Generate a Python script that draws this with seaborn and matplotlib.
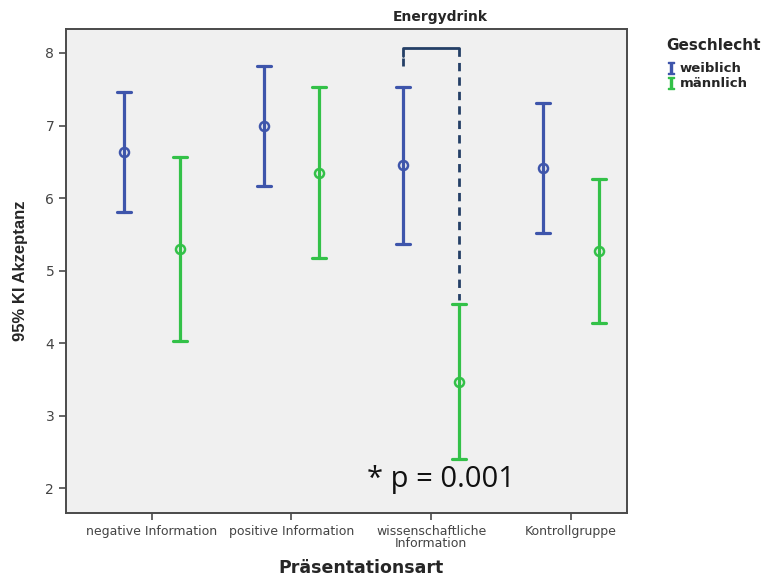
import pandas as pd
import matplotlib.pyplot as plt
import seaborn as sns
from matplotlib.lines import Line2D

gruppen = ["negative Information", "positive Information",
           "wissenschaftliche\nInformation", "Kontrollgruppe"]
geschlecht = ["weiblich", "männlich"]

# Mittelwert und 95%-KI (untere / obere Grenze)
w_mean = [6.64, 7.00, 6.46, 6.42]
w_low = [5.81, 6.17, 5.37, 5.52]
w_up = [7.46, 7.82, 7.53, 7.31]
m_mean = [5.30, 6.35, 3.47, 5.27]
m_low = [4.03, 5.18, 2.41, 4.28]
m_up = [6.57, 7.53, 4.54, 6.26]

farben = ["#3e55ab", "#33c148"]

rows = []
for i, g in enumerate(gruppen):
    for v in (w_low[i], w_mean[i], w_up[i]):
        rows.append({"Präsentationsart": g, "Geschlecht": "weiblich", "Akzeptanz": v})
    for v in (m_low[i], m_mean[i], m_up[i]):
        rows.append({"Präsentationsart": g, "Geschlecht": "männlich", "Akzeptanz": v})
df = pd.DataFrame(rows)

sns.set_style("white")
plt.rcParams["font.family"] = ["DejaVu Sans"]
plt.rcParams["mathtext.fontset"] = "dejavuserif"

fig = plt.figure(figsize=(7.68, 5.80), dpi=100)
ax = fig.add_axes([0.086, 0.1155, 0.730, 0.8345])
ax.set_facecolor("#f0f0f0")

# median of [low, mean, up] = mean, 100% interval = CI limits
sns.pointplot(data=df, x="Präsentationsart", y="Akzeptanz", hue="Geschlecht",
              hue_order=geschlecht, palette=farben, estimator="median",
              errorbar=("pi", 100), dodge=0.4, linestyle="none", capsize=0.1,
              markers="o", markersize=6.5, markerfacecolor="none", markeredgewidth=1.8,
              err_kws={"linewidth": 2.3}, legend=False, ax=ax)

ax.set_xlim(-0.614, 3.4)
ax.set_ylim(1.66, 8.33)
ax.set_yticks([2, 3, 4, 5, 6, 7, 8])

for s in ax.spines.values():
    s.set_color("#4a4a4a")
    s.set_linewidth(1.4)
ax.tick_params(axis="both", which="both", direction="out", length=5, width=1.2,
               color="#4a4a4a", labelcolor="#444444", left=True, bottom=True)
ax.tick_params(axis="x", labelsize=9)
ax.tick_params(axis="y", labelsize=10)
for t in ax.get_xticklabels():
    t.set_linespacing(0.95)

ax.set_xlabel("Präsentationsart", fontsize=12.5, fontweight="bold", va="center")
ax.xaxis.set_label_coords(0.526, -0.1136)
ax.set_ylabel("95% KI Akzeptanz", fontsize=12, fontweight="bold", va="center",
              family=["Liberation Sans", "DejaVu Sans"])
ax.yaxis.set_label_coords(-0.082, 0.5)

fig.text(0.573, 0.971, "Energydrink", fontsize=10, fontweight="bold", ha="center", va="center")

# Signifikanz-Klammer
navy = "#243f66"
ax.plot([1.8, 1.8], [7.82, 7.93], color=navy, lw=2, linestyle=(0, (3, 2)))
ax.plot([1.8, 1.8, 2.2], [7.96, 8.07, 8.07], color=navy, lw=2)
ax.plot([2.2, 2.2], [8.07, 4.6], color=navy, lw=2, linestyle=(0, (3, 2.2)))
ax.text(2.07, 2.12, "* p = 0.001", fontsize=21, ha="center", va="center",
        family=["Open Sans", "DejaVu Sans"], color="#111111")

handles = [Line2D([], [], color=c, marker=r"$\mathbf{I}$", linestyle="none", markersize=8)
           for c in farben]
leg = fig.legend(handles, geschlecht, loc="upper left", bbox_to_anchor=(0.868, 0.935),
                 frameon=False, fontsize=9.5, handlelength=0.6, handletextpad=0.4,
                 labelspacing=0.15, title="Geschlecht", borderaxespad=0, borderpad=0,
                 title_fontproperties={"weight": "bold", "size": 11})
leg._legend_box.align = "left"
leg._legend_box.sep = 7
for t in leg.get_texts():
    t.set_fontweight("bold")

fig.savefig("out.png", dpi=100)
